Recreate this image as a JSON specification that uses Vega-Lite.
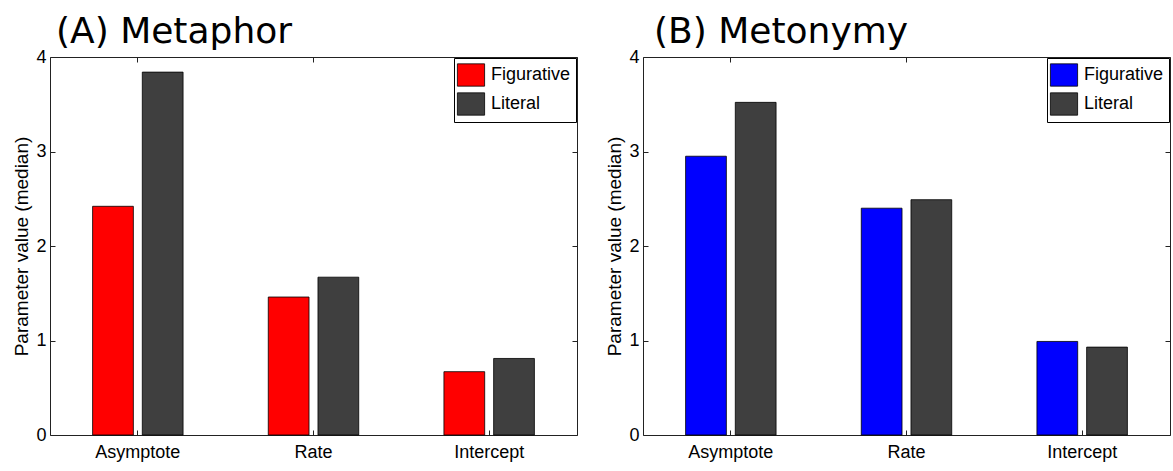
{
  "$schema": "https://vega.github.io/schema/vega-lite/v6.json",
  "padding": {"left": 12, "top": 13, "right": 0, "bottom": 0},
  "background": "white",
  "spacing": 27,
  "data": {"values": [
    {"panel": "A", "param": "Asymptote", "cond": "Figurative", "value": 2.42},
    {"panel": "A", "param": "Asymptote", "cond": "Literal", "value": 3.84},
    {"panel": "A", "param": "Rate", "cond": "Figurative", "value": 1.46},
    {"panel": "A", "param": "Rate", "cond": "Literal", "value": 1.67},
    {"panel": "A", "param": "Intercept", "cond": "Figurative", "value": 0.67},
    {"panel": "A", "param": "Intercept", "cond": "Literal", "value": 0.81},
    {"panel": "B", "param": "Asymptote", "cond": "Figurative", "value": 2.95},
    {"panel": "B", "param": "Asymptote", "cond": "Literal", "value": 3.52},
    {"panel": "B", "param": "Rate", "cond": "Figurative", "value": 2.40},
    {"panel": "B", "param": "Rate", "cond": "Literal", "value": 2.49},
    {"panel": "B", "param": "Intercept", "cond": "Figurative", "value": 0.99},
    {"panel": "B", "param": "Intercept", "cond": "Literal", "value": 0.93}
  ]},
  "config": {
    "view": {"stroke": "#222222", "strokeWidth": 1},
    "font": "Liberation Sans",
    "axis": {
      "labelFont": "Liberation Sans", "labelFontSize": 18, "labelColor": "#000000",
      "titleFont": "Liberation Sans", "titleFontSize": 19, "titleFontWeight": "normal", "titleColor": "#000000",
      "domainColor": "#222222", "tickColor": "#222222", "grid": false
    },
    "legend": {
      "labelFont": "Liberation Sans", "labelFontSize": 18, "labelColor": "#000000"
    },
    "title": {"font": "DejaVu Sans", "fontSize": 36, "fontWeight": "normal", "color": "#000000", "anchor": "start"}
  },
  "resolve": {"scale": {"color": "independent"}, "legend": {"color": "independent"}},
  "hconcat": [
    {
      "width": 527, "height": 378,
      "title": {"text": "(A) Metaphor", "dx": 43, "offset": -3},
      "transform": [{"filter": "datum.panel === 'A'"}],
      "resolve": {"axis": {"x": "independent", "y": "independent"}},
      "layer": [
        {
          "mark": {"type": "bar", "stroke": "#000000", "strokeWidth": 0.8},
          "encoding": {
            "x": {"field": "param", "type": "nominal", "sort": ["Asymptote", "Rate", "Intercept"],
                  "scale": {"paddingInner": 0.485, "paddingOuter": 0.2425},
                  "axis": {"title": null, "labelAngle": 0, "tickSize": -5, "labelPadding": 13, "domain": false}},
            "xOffset": {"field": "cond", "type": "nominal", "sort": ["Figurative", "Literal"], "scale": {"paddingInner": 0.18}},
            "y": {"field": "value", "type": "quantitative", "scale": {"domain": [0, 4], "nice": false},
                  "axis": {"title": "Parameter value (median)", "values": [0, 1, 2, 3, 4], "format": "d", "tickSize": -5, "labelPadding": 9, "titlePadding": 4, "domain": false}},
            "color": {"field": "cond", "type": "nominal", "sort": ["Figurative", "Literal"],
                      "scale": {"domain": ["Figurative", "Literal"], "range": ["#FF0000", "#3F3F3F"]},
                      "legend": {"title": null, "orient": "top-right", "offset": 1, "strokeColor": "#000000", "fillColor": "#FFFFFF", "padding": 5,
                                 "symbolType": "M-1.217,-1H1.217V1H-1.217Z", "symbolSize": 500, "symbolStrokeColor": "#000000", "symbolStrokeWidth": 0.8, "symbolOpacity": 1,
                                 "labelOffset": 8, "rowPadding": 3}}
          }
        },
        {
          "mark": {"type": "bar", "opacity": 0},
          "encoding": {
            "x": {"field": "param", "type": "nominal", "sort": ["Asymptote", "Rate", "Intercept"],
                  "axis": {"orient": "top", "title": null, "labels": false, "tickSize": -5, "domain": false}},
            "xOffset": {"field": "cond", "type": "nominal", "sort": ["Figurative", "Literal"]},
            "y": {"field": "value", "type": "quantitative",
                  "axis": {"orient": "right", "title": null, "labels": false, "values": [0, 1, 2, 3, 4], "tickSize": -5, "domain": false}}
          }
        }
      ]
    },
    {
      "width": 527, "height": 378,
      "title": {"text": "(B) Metonymy", "dx": 48, "offset": -3},
      "transform": [{"filter": "datum.panel === 'B'"}],
      "resolve": {"axis": {"x": "independent", "y": "independent"}},
      "layer": [
        {
          "mark": {"type": "bar", "stroke": "#000000", "strokeWidth": 0.8},
          "encoding": {
            "x": {"field": "param", "type": "nominal", "sort": ["Asymptote", "Rate", "Intercept"],
                  "scale": {"paddingInner": 0.485, "paddingOuter": 0.2425},
                  "axis": {"title": null, "labelAngle": 0, "tickSize": -5, "labelPadding": 13, "domain": false}},
            "xOffset": {"field": "cond", "type": "nominal", "sort": ["Figurative", "Literal"], "scale": {"paddingInner": 0.18}},
            "y": {"field": "value", "type": "quantitative", "scale": {"domain": [0, 4], "nice": false},
                  "axis": {"title": "Parameter value (median)", "values": [0, 1, 2, 3, 4], "format": "d", "tickSize": -5, "labelPadding": 9, "titlePadding": 4, "domain": false}},
            "color": {"field": "cond", "type": "nominal", "sort": ["Figurative", "Literal"],
                      "scale": {"domain": ["Figurative", "Literal"], "range": ["#0000FF", "#3F3F3F"]},
                      "legend": {"title": null, "orient": "top-right", "offset": 1, "strokeColor": "#000000", "fillColor": "#FFFFFF", "padding": 5,
                                 "symbolType": "M-1.217,-1H1.217V1H-1.217Z", "symbolSize": 500, "symbolStrokeColor": "#000000", "symbolStrokeWidth": 0.8, "symbolOpacity": 1,
                                 "labelOffset": 8, "rowPadding": 3}}
          }
        },
        {
          "mark": {"type": "bar", "opacity": 0},
          "encoding": {
            "x": {"field": "param", "type": "nominal", "sort": ["Asymptote", "Rate", "Intercept"],
                  "axis": {"orient": "top", "title": null, "labels": false, "tickSize": -5, "domain": false}},
            "xOffset": {"field": "cond", "type": "nominal", "sort": ["Figurative", "Literal"]},
            "y": {"field": "value", "type": "quantitative",
                  "axis": {"orient": "right", "title": null, "labels": false, "values": [0, 1, 2, 3, 4], "tickSize": -5, "domain": false}}
          }
        }
      ]
    }
  ]
}
